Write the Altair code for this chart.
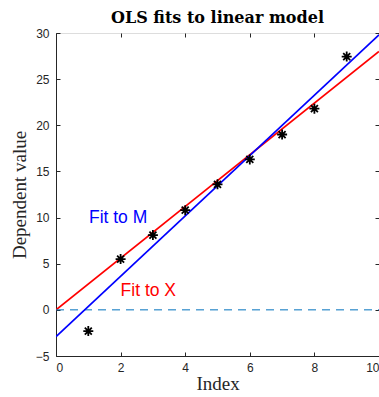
import altair as alt
import pandas as pd

# data
idx = [1, 2, 3, 4, 5, 6, 7, 8, 9]
obs = [-2.3, 5.5, 8.1, 10.8, 13.6, 16.3, 19.0, 21.8, 27.45]
fit_x_x = [0, 10]
fit_x_y = [0.0, 28.0]
fit_m_x = [0, 10]
fit_m_y = [-2.9, 29.8]
ann_text = ["Fit to M", "Fit to X"]
ann_x = [1.02, 2.0]
ann_y = [10.0, 2.0]
ann_color = ["#0000ff", "#ff0000"]

W, H = 323, 323
pts = pd.DataFrame({"x": idx, "y": obs})
red = pd.DataFrame({"x": fit_x_x, "y": fit_x_y})
blue = pd.DataFrame({"x": fit_m_x, "y": fit_m_y})
ann = pd.DataFrame({"x": ann_x, "y": ann_y, "t": ann_text, "c": ann_color})

xs = alt.Scale(domain=[0, 10], nice=False, zero=False)
ys = alt.Scale(domain=[-5, 30], nice=False, zero=False)
tick_vals_x = [0, 2, 4, 6, 8, 10]
tick_vals_y = [-5, 0, 5, 10, 15, 20, 25, 30]

main_x = alt.X("x:Q", scale=xs, axis=alt.Axis(
    title="Index", values=tick_vals_x, ticks=False, grid=False,
    labelFont="Liberation Sans", labelFontSize=12, labelColor="#262626",
    labelPadding=6, titleFont="Liberation Serif", titleFontSize=19,
    titleFontWeight="normal", titleColor="#262626", titlePadding=1,
    domainColor="#262626"))
main_y = alt.Y("y:Q", scale=ys, axis=alt.Axis(
    title="Dependent value", values=tick_vals_y, ticks=False, grid=False,
    labelFont="Liberation Sans", labelFontSize=12, labelColor="#262626",
    labelPadding=7, titleFont="Liberation Serif", titleFontSize=19,
    titleFontWeight="normal", titleColor="#262626", titlePadding=6,
    domainColor="#262626"))

nx = alt.X("x:Q", scale=xs, axis=None)
ny = alt.Y("y:Q", scale=ys, axis=None)

zero_line = alt.Chart(pd.DataFrame({"y": [0]})).mark_rule(
    color="#0072BD", strokeDash=[8, 6], strokeWidth=1).encode(
    y=ny, x=alt.value(0), x2=alt.value(W))

red_line = alt.Chart(red).mark_line(color="#ff0000", strokeWidth=1.8, clip=True).encode(
    x=main_x, y=main_y)
blue_line = alt.Chart(blue).mark_line(color="#0000ff", strokeWidth=1.8, clip=True).encode(
    x=nx, y=ny)

asterisk = "M-1,0L1,0M0,-1L0,1M-0.7,-0.7L0.7,0.7M-0.7,0.7L0.7,-0.7"
points = alt.Chart(pts).mark_point(
    shape=asterisk, size=100, filled=False, color="black", strokeWidth=1.8, opacity=1).encode(
    x=nx, y=ny)

texts = alt.Chart(ann).mark_text(
    align="left", baseline="middle", font="Liberation Sans", fontSize=17.5).encode(
    x=nx, y=ny, text="t:N", color=alt.Color("c:N", scale=None))

# inner ticks (MATLAB style)
ticks_a = alt.Chart(pts).mark_point(opacity=0).encode(
    x=alt.X("x:Q", scale=xs, axis=alt.Axis(
        orient="top", offset=-H, values=tick_vals_x, labels=False, domain=False,
        grid=False, title=None, tickSize=4, tickColor="#262626")),
    y=alt.Y("y:Q", scale=ys, axis=alt.Axis(
        orient="right", offset=-W, values=tick_vals_y, labels=False, domain=False,
        grid=False, title=None, tickSize=4, tickColor="#262626")))
ticks_b = alt.Chart(pts).mark_point(opacity=0).encode(
    x=alt.X("x:Q", scale=xs, axis=alt.Axis(
        orient="bottom", offset=-H, values=tick_vals_x, labels=False, domain=False,
        grid=False, title=None, tickSize=4, tickColor="#262626")),
    y=alt.Y("y:Q", scale=ys, axis=alt.Axis(
        orient="left", offset=-W, values=tick_vals_y, labels=False, domain=False,
        grid=False, title=None, tickSize=4, tickColor="#262626")))

chart = alt.layer(red_line, zero_line, blue_line, points, texts, ticks_a, ticks_b).resolve_axis(
    x="independent", y="independent").properties(
    width=W, height=H,
    title=alt.TitleParams("OLS fits to linear model", font="DejaVu Serif",
                          fontSize=16, fontWeight="bold", color="black",
                          anchor="middle", offset=1),
    autosize=alt.AutoSizeParams(type="none"),
    padding={"left": 56, "top": 33, "right": 0, "bottom": 41},
).configure_view(stroke="#262626", strokeWidth=1).configure(background="white")

chart.save("out.html", embed_options={"renderer": "svg", "actions": False})
